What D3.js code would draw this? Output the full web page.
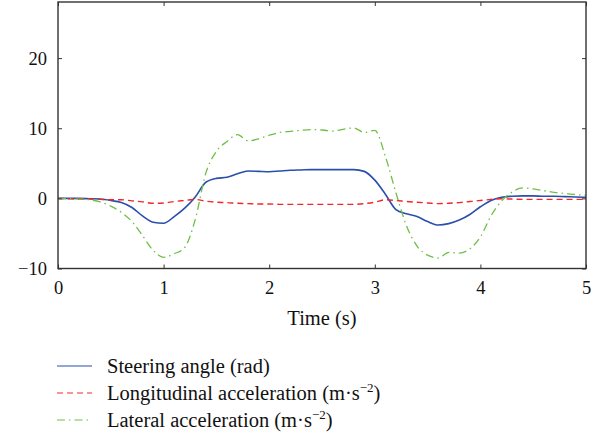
<!DOCTYPE html>
<html>
<head>
<meta charset="utf-8">
<script src="https://cdn.jsdelivr.net/npm/d3@7"></script>
<style>
  body { margin: 0; background: #fff; }
</style>
</head>
<body>
<div id="chart"></div>
<script>
// Steering test time histories

const width = 604,
    height = 439,
    margin = ({ top: 2, right: 18, bottom: 170.5, left: 58 }),
    serif = "Liberation Serif";

// time (s), every 0.1 s
const time = d3.range(0, 51).map(i => i / 10);

const steering = [0, 0, 0, -0.05, -0.1, -0.3, -0.6, -1.3, -2.5, -3.4,
  -3.55, -2.6, -1.4, 0.2, 2.3, 2.85, 3.0, 3.5, 3.9, 3.85,
  3.8, 3.9, 4.0, 4.05, 4.1, 4.1, 4.1, 4.1, 4.1, 3.85,
  2.6, 0.6, -1.6, -2.2, -2.6, -3.3, -3.8, -3.6, -3.1, -2.3,
  -1.2, -0.3, 0.15, 0.3, 0.35, 0.35, 0.3, 0.3, 0.25, 0.2, 0.15];

const longitudinal = [0, -0.05, -0.1, -0.1, -0.15, -0.2, -0.2, -0.35, -0.5, -0.7,
  -0.65, -0.45, -0.3, -0.15, -0.4, -0.55, -0.6, -0.7, -0.75, -0.8,
  -0.8, -0.85, -0.85, -0.85, -0.85, -0.85, -0.85, -0.85, -0.85, -0.75,
  -0.55, -0.2, -0.3, -0.45, -0.55, -0.65, -0.75, -0.7, -0.6, -0.45,
  -0.3, -0.15, -0.05, -0.1, -0.15, -0.15, -0.15, -0.15, -0.15, -0.15, -0.15];

const lateral = [0, -0.05, -0.1, -0.2, -0.5, -1.1, -2.0, -3.3, -5.3, -7.4,
  -8.4, -7.9, -7.0, -3.0, 3.6, 6.7, 8.1, 9.1, 8.2, 8.5,
  9.0, 9.4, 9.55, 9.7, 9.8, 9.75, 9.6, 9.85, 10.05, 9.4,
  9.7, 6.0, 0.8, -3.9, -6.8, -8.1, -8.5, -7.7, -7.8, -7.2,
  -5.5, -2.5, -0.4, 0.9, 1.5, 1.35, 1.1, 0.85, 0.7, 0.55, 0.45];

const xTicks = [0, 1, 2, 3, 4, 5];
const yTicks = [-10, 0, 10, 20];

const series = [
  { name: "Steering angle (rad)", values: steering, color: "#2a4fab", dash: null, width: 1.6 },
  { name: "Longitudinal acceleration (m\u00b7s", sup: "\u22122", values: longitudinal, color: "#f02828", dash: "6,4", width: 1.4 },
  { name: "Lateral acceleration (m\u00b7s", sup: "\u22122", values: lateral, color: "#6fbf45", dash: "8,4,1.5,4", width: 1.3 }
];

const svg = d3.select("#chart")
  .append("svg")
  .attr("width", width)
  .attr("height", height)
  .attr("font-family", serif);

const x = d3.scaleLinear()
  .domain([0, 5])
  .range([margin.left, width - margin.right]);

const y = d3.scaleLinear()
  .domain([-10, 28])
  .range([height - margin.bottom, margin.top]);

// lines
const line = d3.line()
  .x((d, i) => x(time[i]))
  .y(d => y(d))
  .curve(d3.curveMonotoneX);

svg.append("g")
  .selectAll("path")
  .data(series)
  .join("path")
  .attr("d", d => line(d.values))
  .attr("fill", "none")
  .attr("stroke", d => d.color)
  .attr("stroke-width", d => d.width)
  .attr("stroke-dasharray", d => d.dash);

// axes, ticks pointing in
const fmt = d3.format("d");
svg.append("g")
  .attr("transform", `translate(0,${y(-10)})`)
  .call(d3.axisBottom(x).tickValues(xTicks).tickFormat(fmt).tickSize(-4).tickPadding(12));
svg.append("g")
  .attr("transform", `translate(${x(0)},0)`)
  .call(d3.axisLeft(y).tickValues(yTicks).tickFormat(fmt).tickSize(-4).tickPadding(11));
svg.append("g")
  .attr("transform", `translate(0,${y(28)})`)
  .call(d3.axisTop(x).tickValues(xTicks).tickFormat("").tickSize(-4));
svg.append("g")
  .attr("transform", `translate(${x(5)},0)`)
  .call(d3.axisRight(y).tickValues(yTicks).tickFormat("").tickSize(-4));

svg.selectAll(".domain").remove();
svg.selectAll(".tick line").attr("stroke", "#333");
svg.selectAll(".tick").each(function () {
  d3.select(this.parentNode).attr("font-family", serif).attr("font-size", 18.5);
});
svg.selectAll(".tick text").attr("fill", "#111");

svg.append("rect")
  .attr("x", x(0))
  .attr("y", y(28))
  .attr("width", x(5) - x(0))
  .attr("height", y(-10) - y(28))
  .attr("fill", "none")
  .attr("stroke", "#333")
  .attr("stroke-width", 1.4);

// x title
svg.append("text")
  .attr("x", 322)
  .attr("y", 325)
  .attr("text-anchor", "middle")
  .attr("font-size", 20.5)
  .attr("fill", "#111")
  .text("Time (s)");

// legend
const legend = svg.append("g")
  .selectAll("g")
  .data(series)
  .join("g")
  .attr("transform", (d, i) => `translate(57,${366 + i * 27})`);

legend.append("line")
  .attr("x1", 0)
  .attr("x2", 35)
  .attr("stroke", d => d.color)
  .attr("stroke-width", 1.2)
  .attr("stroke-dasharray", d => d.dash);

const lt = legend.append("text")
  .attr("x", 50)
  .attr("y", 7)
  .attr("font-size", 20.5)
  .attr("fill", "#111");
lt.append("tspan").text(d => d.name);
lt.filter(d => d.sup).append("tspan")
  .attr("dy", -8)
  .attr("font-size", 13)
  .text(d => d.sup);
lt.filter(d => d.sup).append("tspan")
  .attr("dy", 8)
  .text(")");
</script>
</body>
</html>
